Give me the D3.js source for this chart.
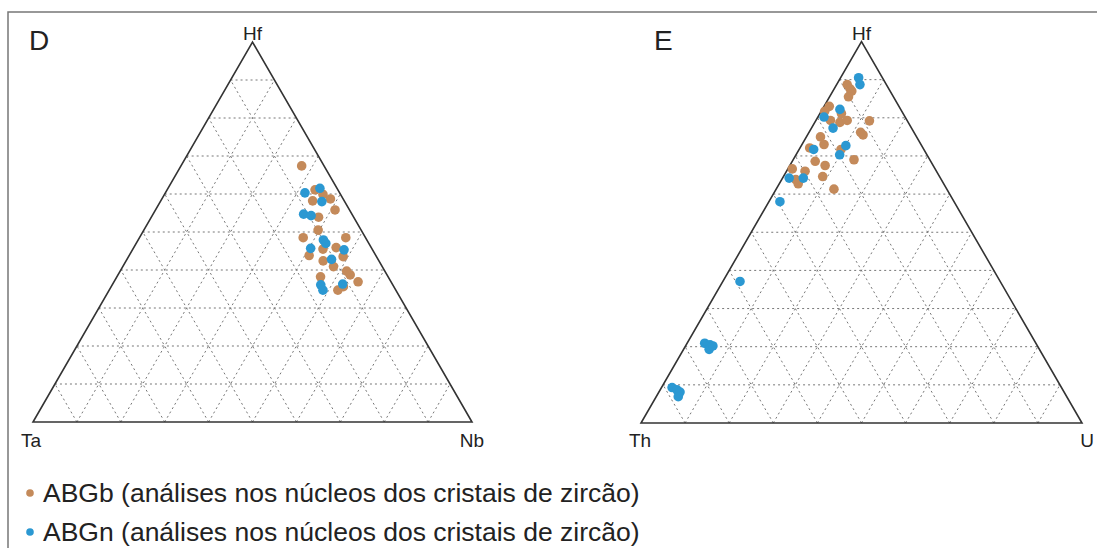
<!DOCTYPE html>
<html>
<head>
<meta charset="utf-8">
<script src="https://cdn.jsdelivr.net/npm/d3@7"></script>
<style>
  html, body { margin: 0; padding: 0; background: #fff; }
  svg { display: block; font-family: "Liberation Sans", Arial, sans-serif; }
</style>
</head>
<body>
<div id="chart"></div>
<script>
// ternary data, percentages [top, right, left]
// panel D: Hf (top), Nb (right), Ta (left)
const abgbD = [
  [67.4, 27.5, 5.1], [61.1, 33.7, 5.2], [59.9, 36.1, 4.0], [58.2, 34.6, 7.2],
  [58.7, 38.4, 2.9], [55.8, 40.9, 3.3], [53.9, 38.1, 8.0], [50.5, 39.7, 9.8],
  [48.5, 37.3, 14.2], [48.5, 47.0, 4.5], [45.5, 43.3, 11.2], [45.9, 46.1, 8.0],
  [43.8, 41.0, 15.2], [43.5, 48.9, 7.6], [42.4, 44.9, 12.7], [40.9, 48.0, 11.1],
  [39.7, 51.6, 8.7], [38.7, 52.9, 8.4], [38.2, 46.4, 15.4], [36.9, 55.6, 7.5],
  [35.6, 52.9, 11.5], [34.7, 52.1, 13.2]
];
const abgnD = [
  [60.3, 31.8, 7.9], [61.5, 34.6, 3.9], [58.0, 36.8, 5.2], [54.7, 34.3, 11.0],
  [54.3, 36.2, 9.5], [47.9, 42.2, 9.9], [47.0, 43.2, 9.8], [45.7, 40.4, 13.9],
  [45.3, 48.2, 6.5], [42.8, 46.6, 10.6], [36.1, 47.5, 16.4], [34.7, 48.7, 16.6],
  [36.3, 52.4, 11.3]
];
// panel E: Hf (top), U (right), Th (left)
const abgbE = [
  [88.7, 2.4, 8.9], [87.6, 3.6, 8.8], [87.0, 4.3, 8.7], [85.5, 4.3, 10.2],
  [83.0, 1.2, 15.8], [81.7, 0.8, 17.5], [81.1, 4.9, 14.0], [79.3, 3.3, 17.4],
  [78.8, 5.7, 15.5], [79.3, 7.1, 13.6], [79.2, 12.2, 8.6], [76.2, 11.7, 12.1],
  [75.5, 12.6, 11.9], [75.0, 3.2, 21.8], [73.0, 5.0, 22.0], [71.7, 9.5, 18.8],
  [72.1, 2.2, 25.7], [69.0, 13.8, 17.2], [68.6, 5.2, 26.2], [67.5, 8.0, 24.5],
  [66.6, 1.0, 32.4], [66.0, 4.2, 29.8], [63.8, 3.2, 33.0], [62.7, 4.3, 33.0],
  [64.6, 8.9, 26.5], [61.3, 13.1, 25.6]
];
const abgnE = [
  [90.5, 4.1, 5.4], [88.7, 5.3, 6.0], [82.2, 4.0, 13.9], [80.2, 1.4, 18.4],
  [77.3, 4.9, 17.8], [72.7, 10.1, 17.2], [70.3, 9.9, 19.8], [71.7, 3.3, 25.0],
  [64.2, 1.5, 34.3], [64.2, 4.7, 31.1], [58.0, 2.5, 39.5], [37.1, 3.9, 59.0],
  [20.9, 4.0, 75.1], [20.5, 5.4, 74.1], [19.3, 5.8, 74.9], [20.2, 6.2, 73.7],
  [9.3, 2.4, 88.3], [8.7, 3.8, 87.5], [8.1, 4.8, 87.1], [6.9, 5.0, 88.1]
];
const gridSteps = d3.range(1, 10).map(i => i / 10);
const legendItems = [
  "ABGb (análises nos núcleos dos cristais de zircão)",
  "ABGn (análises nos núcleos dos cristais de zircão)"
];
const colors = { abgb: "#c48a5a", abgn: "#2b98d2" };

const W = 1097, H = 548;
const svg = d3.select("#chart").append("svg").attr("width", W).attr("height", H);

// outer frame (top and left edges)
svg.append("path")
  .attr("d", `M8,${H} L8,12 L${W},12`)
  .attr("fill", "none").attr("stroke", "#777").attr("stroke-width", 1.5);

function drawTernary(cfg) {
  const x = d3.scaleLinear().domain([0, 1]).range([cfg.x0, cfg.x1]);
  const y = d3.scaleLinear().domain([0, 1]).range([cfg.yBase, cfg.yTop]);
  // fractions: t top, r right
  const pt = (t, r) => [x(r + t / 2), y(t)];
  const g = svg.append("g");

  const gridLines = [];
  gridSteps.forEach(v => {
    gridLines.push([pt(v, 0), pt(v, 1 - v)]);         // constant top
    gridLines.push([pt(0, v), pt(1 - v, v)]);         // constant right
    gridLines.push([pt(0, 1 - v), pt(1 - v, 0)]);     // constant left
  });
  g.selectAll(".grid").data(gridLines).join("line")
    .attr("class", "grid")
    .attr("x1", d => d[0][0]).attr("y1", d => d[0][1])
    .attr("x2", d => d[1][0]).attr("y2", d => d[1][1])
    .attr("stroke", "#777").attr("stroke-width", 1)
    .attr("stroke-dasharray", "2,3");

  const corners = [pt(0, 0), pt(0, 1), pt(1, 0)];
  g.append("path")
    .attr("d", d3.line()(corners) + "Z")
    .attr("fill", "none").attr("stroke", "#333").attr("stroke-width", 1.6)
    .attr("stroke-linejoin", "miter");

  const draw = (data, color) => {
    g.selectAll(null).data(data).join("circle")
      .attr("cx", d => pt(d[0] / 100, d[1] / 100)[0])
      .attr("cy", d => pt(d[0] / 100, d[1] / 100)[1])
      .attr("r", 4.8)
      .attr("fill", color);
  };
  draw(cfg.brown, colors.abgb);
  draw(cfg.blue, colors.abgn);

  const lab = (txt, px, py, anchor, size) => g.append("text")
    .attr("x", px).attr("y", py).attr("text-anchor", anchor)
    .attr("font-size", size).attr("fill", "#222").text(txt);
  lab(cfg.labels[0], pt(1, 0)[0], 40, "middle", 19);
  lab(cfg.labels[1], pt(0, 0)[0] - 12, 447, "start", 19);
  lab(cfg.labels[2], pt(0, 1)[0] + 12, 447, "end", 19);
  lab(cfg.panel, cfg.panelX, 50, "start", 28);
}

drawTernary({
  x0: 33, x1: 472, yBase: 422, yTop: 42,
  brown: abgbD, blue: abgnD, labels: ["Hf", "Ta", "Nb"],
  panel: "D", panelX: 29
});
drawTernary({
  x0: 641, x1: 1082, yBase: 423, yTop: 41.5,
  brown: abgbE, blue: abgnE, labels: ["Hf", "Th", "U"],
  panel: "E", panelX: 654
});

// legend
const leg = svg.append("g");
legendItems.forEach((t, i) => {
  const yy = 493 + i * 39;
  leg.append("circle").attr("cx", 30).attr("cy", yy).attr("r", 3.8)
    .attr("fill", i === 0 ? colors.abgb : colors.abgn);
  leg.append("text").attr("x", 43).attr("y", yy + 9)
    .attr("font-size", 26.5).attr("fill", "#222").text(t);
});
</script>
</body>
</html>
